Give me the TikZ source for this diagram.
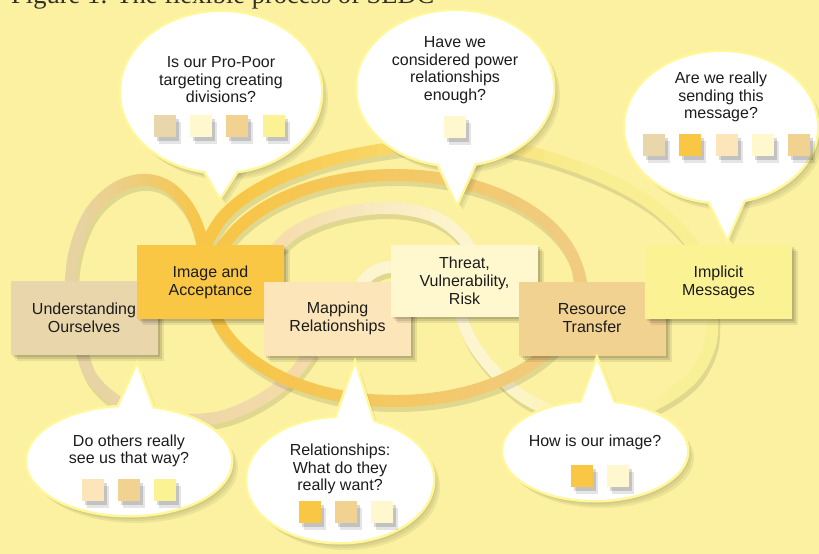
\documentclass[tikz,border=0pt]{standalone}
\usepackage{fontspec}
\setmainfont{Liberation Sans}
\newfontfamily\titlefont{Liberation Serif}
\usetikzlibrary{shadows}
\definecolor{bgc}{RGB}{251,241,160}
\definecolor{txt}{RGB}{28,28,28}
\definecolor{titlec}{RGB}{50,47,40}
\definecolor{cuo}{RGB}{233,214,170}
\definecolor{cia}{RGB}{249,199,68}
\definecolor{cmr}{RGB}{252,229,184}
\definecolor{ctv}{RGB}{255,248,206}
\definecolor{crt}{RGB}{242,210,145}
\definecolor{cim}{RGB}{251,242,148}
\definecolor{bord}{RGB}{255,247,152}
\definecolor{rtan}{RGB}{231,211,163}
\definecolor{rorange}{RGB}{247,197,70}
\definecolor{rpeach}{RGB}{245,219,170}
\definecolor{rtanor}{RGB}{240,203,130}
\definecolor{rpale}{RGB}{249,239,148}
\definecolor{rcream}{RGB}{253,245,208}

\pgfdeclarelayer{ribbonlayer}
\pgfdeclarelayer{shadowlayer}
\pgfsetlayers{ribbonlayer,shadowlayer,main}

\tikzset{
  rib/.style={line width=12pt, line cap=butt},
  ribshadow/.style={line width=12pt, black, opacity=.1, line cap=butt},
  stage/.style={minimum width=147pt, minimum height=74pt, inner sep=0pt, align=center,
    text=txt, font=\fontsize{16}{18}\selectfont,
    general shadow={fill=black, opacity=.11, shadow xshift=2pt, shadow yshift=-2pt},
    general shadow={fill=black, opacity=.1, shadow xshift=4pt, shadow yshift=-4pt},
    general shadow={fill=black, opacity=.08, shadow xshift=6pt, shadow yshift=-6pt}},
  sq/.style={minimum size=22pt, inner sep=0pt,
    general shadow={fill=black, opacity=.15, shadow xshift=3pt, shadow yshift=-4pt},
    general shadow={fill=black, opacity=.1, shadow xshift=5pt, shadow yshift=-7pt}},
  qtext/.style={align=center, text=txt, font=\fontsize{16}{17.5}\selectfont, inner sep=0pt},
  bubbleborder/.style={draw=bord, line width=5pt},
}

% ribbon with a left-to-right colour gradient
\newcommand{\gradrib}[5]{%
  \draw[ribshadow, shift={(2,5)}] #1;
  \foreach \k in {0,...,19}{%
    \pgfmathsetmacro{\xa}{ifthenelse(\k==0,-50,#4+(#5-#4)*\k/20)}%
    \pgfmathsetmacro{\xb}{ifthenelse(\k==19,900,#4+(#5-#4)*(\k+1)/20)}%
    \pgfmathtruncatemacro{\pc}{100*(\k+.5)/20}%
    \begin{scope}
      \clip (\xa-0.5,-50) rectangle (\xb+0.5,650);
      \draw[rib, color=#3!\pc!#2] #1;
    \end{scope}
  }%
}

% speech bubble: centre, rx, ry, base left, tip, base right
\newcommand{\sbubble}[6]{%
  \begin{pgfonlayer}{shadowlayer}
    \foreach \d in {2,4,6}{
      \fill[black, opacity=.055, shift={(\d,\d+1)}] #1 ellipse [x radius=#2pt+1pt, y radius=#3pt+1pt];
      \fill[black, opacity=.055, shift={(\d,\d+1)}] #4 -- #5 -- #6 -- cycle;
    }
  \end{pgfonlayer}
  \draw[bubbleborder] #1 ellipse [x radius=#2pt, y radius=#3pt];
  \draw[bubbleborder, line join=miter] #4 -- #5 -- #6 -- cycle;
  \fill[white] #1 ellipse [x radius=#2pt, y radius=#3pt];
  \fill[white] #4 -- #5 -- #6 -- cycle;
}

\begin{document}
\begin{tikzpicture}[x=1pt, y=-1pt]
\useasboundingbox (0,0) rectangle (819,554);

\begin{pgfonlayer}{ribbonlayer}
  \fill[bgc] (0,0) rectangle (819,554);
  % tan loop round "Understanding Ourselves"
  \gradrib{plot[smooth, tension=.6] coordinates {(70,300) (74,255) (89,215) (113,190) (140,180) (165,185) (185,203) (198,228) (206,262)}}{rtan}{rorange}{80}{205}
  \gradrib{plot[smooth, tension=.6] coordinates {(80,345) (92,378) (122,404) (168,418) (215,418) (255,403) (290,378) (312,350)}}{rtan}{rpeach}{90}{310}
  % peach / cream ribbon towards Threat
  \gradrib{plot[smooth, tension=.6] coordinates {(268,258) (295,232) (335,215) (385,208) (430,215) (460,235) (478,262)}}{rpeach}{rcream}{270}{460}
  \gradrib{plot[smooth, tension=.6] coordinates {(358,292) (366,278) (380,269) (398,266)}}{rcream}{rcream}{350}{400}
  % right loop under Resource Transfer
  \gradrib{plot[smooth, tension=.6] coordinates {(712,312) (710,345) (692,378) (655,404) (610,418) (565,415) (525,398) (495,372) (472,342) (460,312)}}{rcream}{rpale}{480}{690}
  % middle orange ellipse
  \gradrib{(395,288) ellipse [x radius=185pt, y radius=113pt]}{rorange}{rtanor}{230}{570}
  % outer arc to Implicit Messages
  \gradrib{plot[smooth, tension=.6] coordinates {(198,262) (222,218) (262,187) (320,163) (385,149) (450,143) (520,150) (590,172) (645,200) (682,232) (705,265)}}{rorange}{rpale}{230}{600}
\end{pgfonlayer}

% title, cut by the top edge as in the original
\node[anchor=base west, inner sep=0pt, text=titlec, font=\titlefont\fontsize{26.5}{30}\selectfont] (title) at (11,3) {Figure 1: The flexible process of SEDC};

% stages
\node[stage, fill=cuo] (uo) at (84,318) {Understanding\\Ourselves};
\node[stage, fill=cia] (ia) at (210.5,282) {Image and\\Acceptance};
\node[stage, fill=cmr] (mr) at (337.5,318.5) {Mapping\\Relationships};
\node[stage, fill=ctv, minimum height=72pt] (tv) at (464.5,281) {Threat,\\Vulnerability,\\Risk};
\node[stage, fill=crt] (rt) at (592,318.5) {Resource\\Transfer};
\node[stage, fill=cim] (im) at (718.5,282) {Implicit\\Messages};

% bubble 1
\sbubble{(221,92)}{100}{80}{(199,160)}{(220,197)}{(244,160)}
\node[qtext] (q1) at (221,80) {Is our Pro-Poor\\targeting creating\\divisions?};
\node[sq, fill=cuo] (s11) at (165,126) {};
\node[sq, fill=ctv] (s12) at (201,126) {};
\node[sq, fill=crt] (s13) at (237,126) {};
\node[sq, fill=cim] (s14) at (274,126) {};

% bubble 2
\sbubble{(455,88)}{98}{77}{(433,152)}{(457,203)}{(480,152)}
\node[qtext] (q2) at (455,70) {Have we\\considered power\\relationships\\enough?};
\node[sq, fill=ctv] (s21) at (455,127) {};

% bubble 3
\sbubble{(721,127)}{96}{75}{(703,188)}{(727,238)}{(749,188)}
\node[qtext] (q3) at (721,97) {Are we really\\sending this\\message?};
\node[sq, fill=cuo] (s31) at (654,145) {};
\node[sq, fill=cia] (s32) at (690,145) {};
\node[sq, fill=cmr] (s33) at (727,145) {};
\node[sq, fill=ctv] (s34) at (763,145) {};
\node[sq, fill=crt] (s35) at (799,145) {};

% bubble 4
\sbubble{(129,461)}{102}{54}{(114,418)}{(137,366)}{(156,418)}
\node[qtext] (q4) at (129,451) {Do others really\\see us that way?};
\node[sq, fill=cmr] (s41) at (93,490) {};
\node[sq, fill=crt] (s42) at (129,490) {};
\node[sq, fill=cim] (s43) at (165,490) {};

% bubble 5
\sbubble{(340,480)}{93}{62}{(333,428)}{(355,365)}{(375,428)}
\node[qtext] (q5) at (340,469) {Relationships:\\What do they\\really want?};
\node[sq, fill=cia] (s51) at (310,512) {};
\node[sq, fill=crt] (s52) at (346,512) {};
\node[sq, fill=ctv] (s53) at (382,512) {};

% bubble 6
\sbubble{(595,451)}{92}{49}{(578,412)}{(597,360)}{(617,412)}
\node[qtext] (q6) at (595,442) {How is our image?};
\node[sq, fill=cia] (s61) at (582,476) {};
\node[sq, fill=ctv] (s62) at (618,476) {};
\end{tikzpicture}
\end{document}
